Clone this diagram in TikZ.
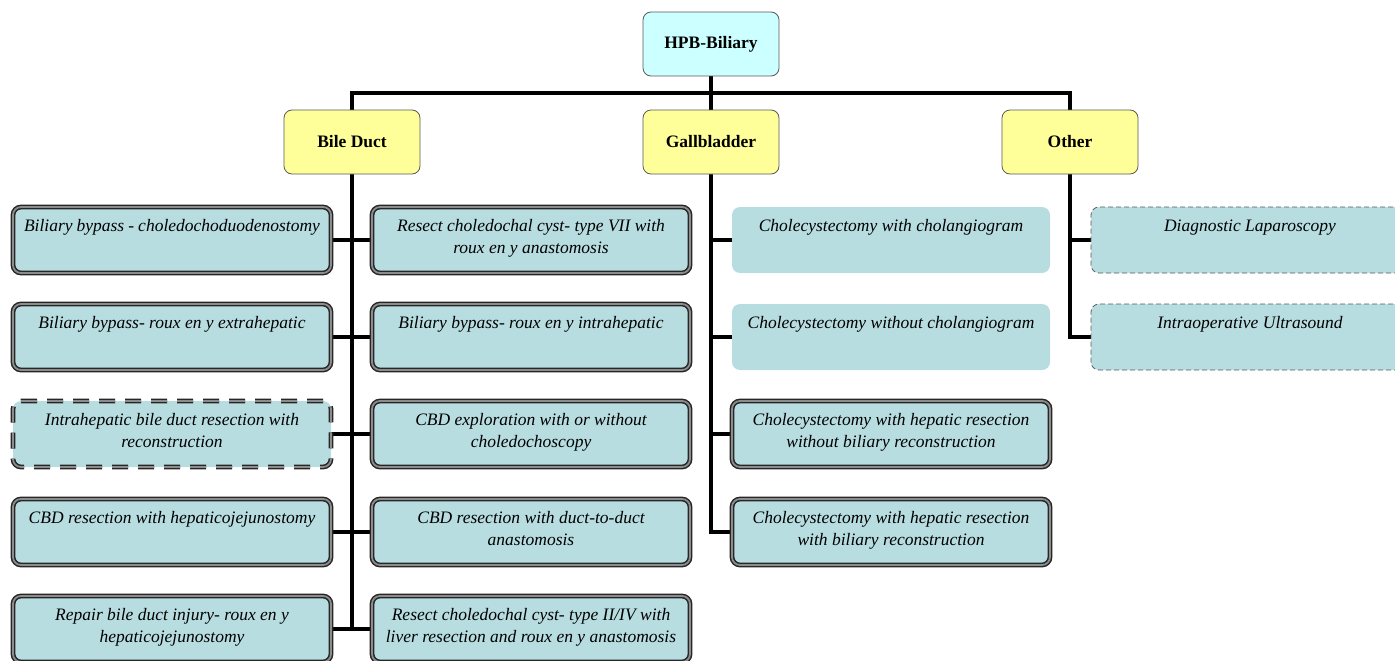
\documentclass[tikz,border=0pt]{standalone}
\usepackage{fontspec}
\setmainfont{Liberation Serif}
\usetikzlibrary{positioning,calc,backgrounds}

\definecolor{rootfill}{RGB}{204,255,255}
\definecolor{catfill}{RGB}{255,255,153}
\definecolor{leaffill}{RGB}{183,221,225}

\newcommand{\leaftext}[1]{\parbox[c][48pt][t]{296pt}{\centering\strut #1}}

\tikzset{
  link/.style={line width=4.5pt, line cap=rect},
  topbox/.style={draw=black!65, thick, rounded corners=8pt, minimum width=136pt, minimum height=64pt, font=\fontsize{17.5}{20}\selectfont\bfseries},
  rootbox/.style={topbox, fill=rootfill},
  catbox/.style={topbox, fill=catfill},
  leafbase/.style={fill=leaffill, rounded corners=8pt, inner xsep=11pt, inner ysep=9pt, font=\fontsize{17.5}{22}\selectfont\itshape},
  dblbox/.style={leafbase, draw=black!85, line width=1.5pt, double=black!45, double distance=1.8pt},
  dbldashbox/.style={dblbox, dash pattern=on 16pt off 10pt},
  plainbox/.style={leafbase},
  dashbox/.style={leafbase, draw=black!65, thick, dash pattern=on 5pt off 3pt},
}

\begin{document}
\begin{tikzpicture}[x=1pt,y=-1pt]
  \useasboundingbox (0,0) rectangle (1395,661);
  \clip (0,0) rectangle (1395,661);

  % Root and categories
  \node[rootbox] (root) at (711,44) {HPB-Biliary};
  \node[catbox] (bile) at (352,142) {Bile Duct};
  \node[catbox] (gall) at (711,142) {Gallbladder};
  \node[catbox] (other) at (1070,142) {Other};
  \coordinate (bus) at (711,93);

  % Bile duct, left column
  \node[dblbox] (l1) at (172,240) {\leaftext{Biliary bypass - choledochoduodenostomy}};
  \node[dblbox] (l2) at (172,337) {\leaftext{Biliary bypass- roux en y extrahepatic}};
  \node[dbldashbox] (l3) at (172,434) {\leaftext{Intrahepatic bile duct resection with\\ reconstruction}};
  \node[dblbox] (l4) at (172,532) {\leaftext{CBD resection with hepaticojejunostomy}};
  \node[dblbox] (l5) at (172,629) {\leaftext{Repair bile duct injury- roux en y\\ hepaticojejunostomy}};

  % Bile duct, right column
  \node[dblbox] (r1) at (531,240) {\leaftext{Resect choledochal cyst- type VII with\\ roux en y anastomosis}};
  \node[dblbox] (r2) at (531,337) {\leaftext{Biliary bypass- roux en y intrahepatic}};
  \node[dblbox] (r3) at (531,434) {\leaftext{CBD exploration with or without\\ choledochoscopy}};
  \node[dblbox] (r4) at (531,532) {\leaftext{CBD resection with duct-to-duct\\ anastomosis}};
  \node[dblbox] (r5) at (531,629) {\leaftext{Resect choledochal cyst- type II/IV with\\ liver resection and roux en y anastomosis}};

  % Gallbladder
  \node[plainbox] (g1) at (891,240) {\leaftext{Cholecystectomy with cholangiogram}};
  \node[plainbox] (g2) at (891,337) {\leaftext{Cholecystectomy without cholangiogram}};
  \node[dblbox] (g3) at (891,434) {\leaftext{Cholecystectomy with hepatic resection\\ without biliary reconstruction}};
  \node[dblbox] (g4) at (891,532) {\leaftext{Cholecystectomy with hepatic resection\\ with biliary reconstruction}};

  % Other
  \node[dashbox] (o1) at (1250,240) {\leaftext{Diagnostic Laparoscopy}};
  \node[dashbox] (o2) at (1250,337) {\leaftext{Intraoperative Ultrasound}};

  % Connectors
  \begin{scope}[on background layer]
    \draw[link] (root.south) -- (bus);
    \draw[link] (bile.north) |- (bus) -| (other.north);
    \draw[link] (bus) -- (gall.north);
    \draw[link] (bile.south) -- (bile.south |- l5.east);
    \foreach \i in {1,...,5}
      \draw[link] (l\i.east) -- (r\i.west);
    \draw[link] (gall.south) -- (gall.south |- g4.west);
    \foreach \i in {1,...,4}
      \draw[link] (gall.south |- g\i.west) -- (g\i.west);
    \draw[link] (other.south) -- (other.south |- o2.west);
    \foreach \i in {1,2}
      \draw[link] (other.south |- o\i.west) -- (o\i.west);
  \end{scope}
\end{tikzpicture}
\end{document}
